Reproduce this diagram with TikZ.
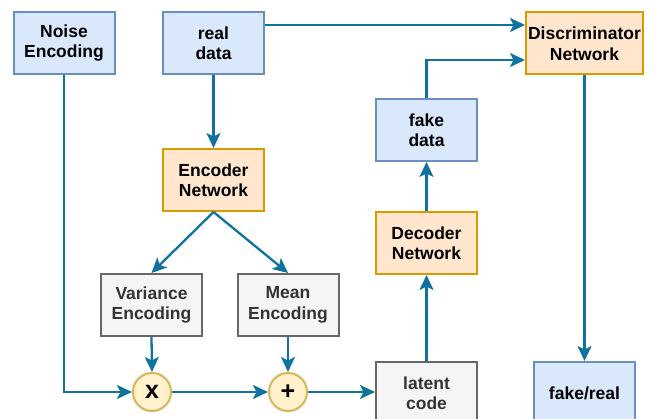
\documentclass[tikz,border=0pt]{standalone}
\usepackage{fontspec}
\setmainfont{Liberation Sans}
\usepackage{tikz}
\usetikzlibrary{arrows.meta}

\definecolor{bluefill}{HTML}{DAE8FC}
\definecolor{bluedraw}{HTML}{6C8EBF}
\definecolor{orangefill}{HTML}{FFE6CC}
\definecolor{orangedraw}{HTML}{D79B00}
\definecolor{grayfill}{HTML}{F5F5F5}
\definecolor{graydraw}{HTML}{666666}
\definecolor{opfill}{HTML}{FFF2CC}
\definecolor{opdraw}{HTML}{D6B656}
\definecolor{linkcolor}{HTML}{10739E}

\tikzset{
	box/.style={draw, line width=2pt, minimum width=101pt, minimum height=62pt,
		inner sep=0pt, align=center, font=\fontsize{17.5}{20.5}\selectfont\bfseries},
	bluebox/.style={box, fill=bluefill, draw=bluedraw},
	orangebox/.style={box, fill=orangefill, draw=orangedraw},
	graybox/.style={box, fill=grayfill, draw=graydraw, text=black!80},
	opnode/.style={circle, draw=opdraw, fill=opfill, line width=2pt, minimum size=38pt,
		inner sep=0pt, font=\fontsize{25}{25}\selectfont\bfseries},
	link/.style={->, >={Stealth[length=15pt,width=14pt,inset=3.5pt]}, line width=2.3pt, draw=linkcolor}
}

\begin{document}
\begin{tikzpicture}[x=1pt, y=-1pt]
			% 描画範囲
			\useasboundingbox (0,0) rectangle (656,419);
			\clip (0,0) rectangle (656,419);
			% 入力
			\node[bluebox] (noise) at (64,43) {Noise\\Encoding};
			\node[bluebox] (real) at (213.5,43) {real\\data};
			% エンコーダ
			\node[orangebox] (enc) at (213.5,180) {Encoder\\Network};
			\node[graybox] (var) at (151.5,305) {Variance\\Encoding};
			\node[graybox] (mean) at (288,305) {Mean\\Encoding};
			% 演算
			\node[opnode] (mul) at (152,392) {x};
			\node[opnode] (add) at (288,392) {+};
			% デコーダ
			\node[graybox] (latent) at (426.5,393) {latent\\code};
			\node[orangebox] (dec) at (426.5,243) {Decoder\\Network};
			\node[bluebox] (fake) at (426.5,130) {fake\\data};
			% 識別器
			\node[orangebox, minimum width=117pt] (disc) at (584.5,43.5) {Discriminator\\Network};
			\node[bluebox] (result) at (584.5,393) {fake/real};
			% 矢印の描画
			\draw[link] ([yshift=18pt]real.east) -- ([yshift=18.5pt]disc.west);
			\draw[link] (fake.north) |- ([yshift=-16.5pt]disc.west);
			\draw[link] (real.south) -- (enc.north);
			\draw[link] (enc.south) -- (var.north);
			\draw[link] (enc.south) -- (mean.north);
			\draw[link] (noise.south) |- (mul.west);
			\draw[link] (var.south) -- (mul.north);
			\draw[link] (mean.south) -- (add.north);
			\draw[link] (mul.east) -- (add.west);
			\draw[link] (add.east) -- (latent.west |- add.east);
			\draw[link] (latent.north) -- (dec.south);
			\draw[link] (dec.north) -- (fake.south);
			\draw[link] (disc.south) -- (result.north);
		\end{tikzpicture}
\end{document}
